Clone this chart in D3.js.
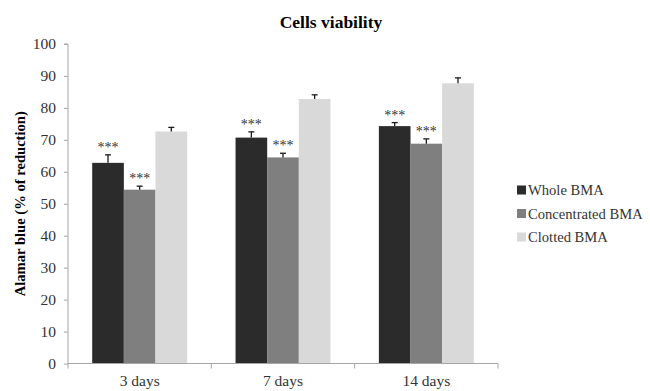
<!DOCTYPE html>
<html>
<head>
<meta charset="utf-8">
<script src="https://cdn.jsdelivr.net/npm/d3@7"></script>
<style>
html,body{margin:0;padding:0;background:#fff;}
svg{display:block;}
svg text{font-family:"Liberation Serif","Tinos","Times New Roman","DejaVu Serif",serif;}
</style>
</head>
<body>
<svg id="chart" width="650" height="391"></svg>
<script>
const categories = ["3 days", "7 days", "14 days"];
const seriesNames = ["Whole BMA", "Concentrated BMA", "Clotted BMA"];
const wholeValues = [62.8, 70.7, 74.3];
const wholeErrors = [2.5, 1.8, 1.1];
const concentratedValues = [54.4, 64.5, 68.8];
const concentratedErrors = [1.1, 1.3, 1.5];
const clottedValues = [72.6, 82.8, 87.7];
const clottedErrors = [1.3, 1.3, 1.7];
const significance = [["***", "***", "***"], ["***", "***", "***"], ["", "", ""]];
const yTicks = [0, 10, 20, 30, 40, 50, 60, 70, 80, 90, 100];
const colors = ["#2b2b2b", "#7f7f7f", "#d9d9d9"];

(function () {
const FONT = "'Liberation Serif','Tinos','Times New Roman','DejaVu Serif',serif";
const values = [wholeValues, concentratedValues, clottedValues];
const errors = [wholeErrors, concentratedErrors, clottedErrors];

const svg = d3.select("#chart").attr("font-family", FONT);
const pLeft = 68, pRight = 498, pTop = 44, pBottom = 363.5;

const y = d3.scaleLinear().domain([0, 100]).range([pBottom, pTop]);
const x0 = d3.scaleBand().domain(categories).range([pLeft, pRight]).paddingInner(0).paddingOuter(0);
const groupPad = 24.2;
const x1 = d3.scaleBand().domain(seriesNames).range([groupPad, x0.bandwidth() - groupPad]).padding(0);

// title
svg.append("text").attr("x", 331).attr("y", 28).attr("text-anchor", "middle").attr("font-family", FONT)
  .attr("font-size", 17.5).attr("font-weight", "bold").attr("fill", "#000").text("Cells viability");

// y axis
const yAxis = d3.axisLeft(y).tickValues(yTicks).tickSize(4).tickPadding(8);
const gy = svg.append("g").attr("transform", `translate(${pLeft},0)`).call(yAxis).attr("font-family", FONT);
gy.select(".domain").attr("stroke", "#a6a6a6").attr("d", `M-4,${pTop}H0V${pBottom}`);
gy.selectAll(".tick line").attr("stroke", "#a6a6a6");
gy.selectAll(".tick text").attr("font-size", 15.5).attr("fill", "#333");

// y axis title
svg.append("text").attr("transform", `translate(25,${(pTop + pBottom) / 2}) rotate(-90)`).attr("font-family", FONT)
  .attr("text-anchor", "middle").attr("font-size", 14.6).attr("font-weight", "bold").attr("fill", "#000")
  .text("Alamar blue (% of reduction)");

// bars
categories.forEach((c, ci) => {
  seriesNames.forEach((s, si) => {
    const v = values[si][ci];
    const e = errors[si][ci];
    const bx = x0(c) + x1(s);
    const bw = x1.bandwidth();
    svg.append("rect").attr("x", bx).attr("y", y(v)).attr("width", bw).attr("height", y(0) - y(v))
      .attr("fill", colors[si]);
    const cx = bx + bw / 2;
    svg.append("line").attr("x1", cx).attr("x2", cx).attr("y1", y(v)).attr("y2", y(v + e))
      .attr("stroke", "#1a1a1a").attr("stroke-width", 1.3);
    svg.append("line").attr("x1", cx - 3).attr("x2", cx + 3).attr("y1", y(v + e)).attr("y2", y(v + e))
      .attr("stroke", "#1a1a1a").attr("stroke-width", 1.3);
    const sig = significance[si][ci];
    if (sig) {
      svg.append("text").attr("x", cx).attr("y", y(v + e) - 3).attr("text-anchor", "middle").attr("font-family", FONT)
        .attr("font-size", 14).attr("fill", "#333").text(sig);
    }
  });
});

// x axis
const gx = svg.append("g");
gx.append("line").attr("x1", pLeft).attr("x2", pRight).attr("y1", pBottom).attr("y2", pBottom).attr("stroke", "#a6a6a6");
const bounds = categories.map(c => x0(c)).concat([x0(categories[categories.length - 1]) + x0.bandwidth()]);
gx.selectAll("line.tk").data(bounds).enter().append("line").attr("class", "tk")
  .attr("x1", d => d).attr("x2", d => d).attr("y1", pBottom).attr("y2", pBottom + 5).attr("stroke", "#a6a6a6");
gx.selectAll("text").data(categories).enter().append("text").attr("font-family", FONT)
  .attr("x", d => x0(d) + x0.bandwidth() / 2).attr("y", 386).attr("text-anchor", "middle")
  .attr("font-size", 15.5).attr("fill", "#333").text(d => d);

// legend
const lg = svg.append("g");
seriesNames.forEach((s, i) => {
  const cy = 190 + i * 23.5;
  lg.append("rect").attr("x", 517).attr("y", cy - 4.5).attr("width", 9).attr("height", 9).attr("fill", colors[i]);
  lg.append("text").attr("x", 528).attr("y", cy + 5).attr("font-family", FONT).attr("font-size", 14.6).attr("fill", "#333").text(s);
});
})();
</script>
</body>
</html>
